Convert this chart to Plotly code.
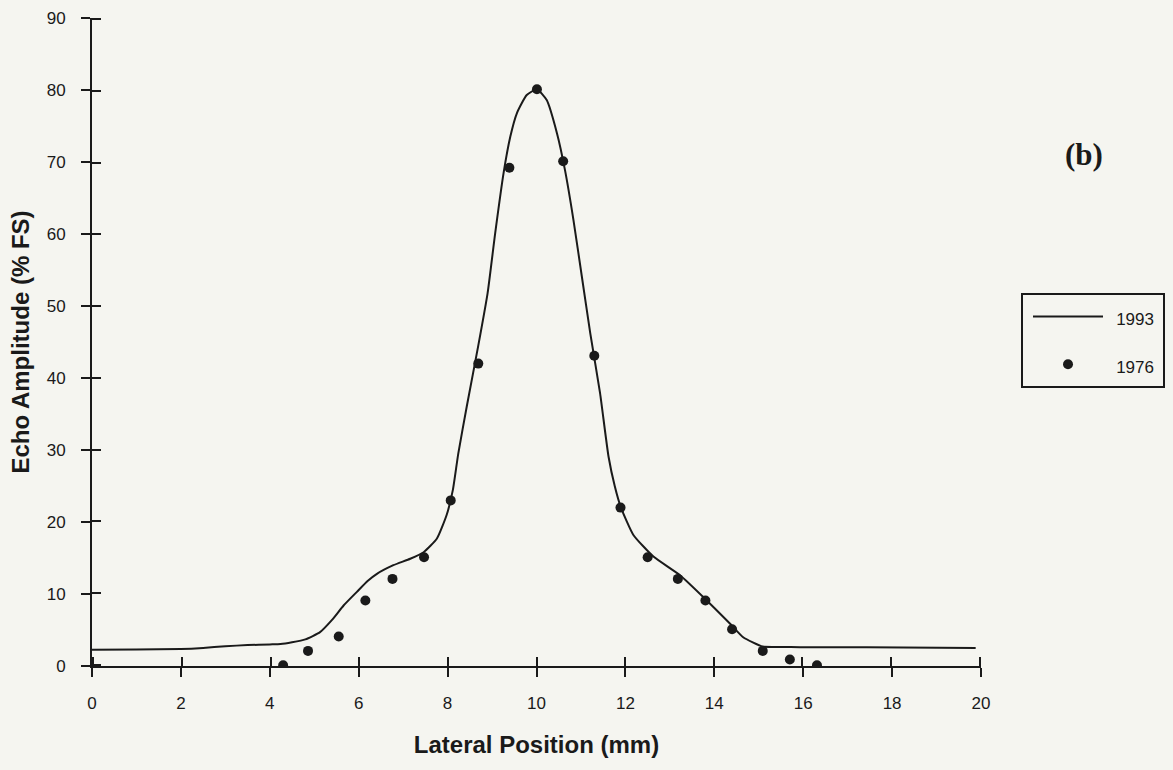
import plotly.graph_objects as go

# 1993 measured curve
x_1993 = [0, 1, 2, 2.5, 3, 3.5, 4.0, 4.24, 4.5, 4.8, 5.13, 5.4, 5.66, 5.96, 6.2, 6.41,
          6.78, 7.16, 7.46, 7.76, 7.98, 8.12, 8.24, 8.43, 8.69, 8.90, 9.07, 9.26, 9.41,
          9.56, 9.78, 10.01, 10.23, 10.46, 10.64, 10.83, 11.02, 11.21, 11.43, 11.62,
          11.76, 11.90, 12.18, 12.63, 13.23, 13.83, 14.35, 14.65, 15.09, 15.5, 15.93,
          17.43, 19.88]
y_1993 = [2.25, 2.3, 2.35, 2.5, 2.75, 2.9, 3.0, 3.05, 3.3, 3.7, 4.7, 6.4, 8.4, 10.3, 11.8, 12.8,
          14.0, 14.9, 15.8, 17.7, 21.0, 24.5, 29.5, 36.0, 44.5, 51.8, 60.1, 68.5, 73.5,
          76.8, 79.3, 80.1, 78.6, 74.0, 68.9, 62.0, 54.1, 46.2, 37.9, 29.1,
          25.0, 22.0, 18.2, 15.2, 12.6, 9.1, 5.9, 4.0, 2.7, 2.65, 2.6,
          2.6, 2.5]

# 1976 measured points
x_1976 = [4.30, 4.86, 5.55, 6.15, 6.76, 7.47, 8.07, 8.69, 9.39, 10.01, 10.60, 11.30,
          11.89, 12.50, 13.18, 13.80, 14.40, 15.09, 15.70, 16.31]
y_1976 = [0.1, 2.1, 4.1, 9.1, 12.1, 15.1, 23.0, 42.0, 69.2, 80.1, 70.1, 43.1,
          22.0, 15.1, 12.1, 9.1, 5.1, 2.1, 0.9, 0.1]

x_ticks = [0, 2, 4, 6, 8, 10, 12, 14, 16, 18, 20]
y_ticks = [0, 10, 20, 30, 40, 50, 60, 70, 80, 90]
x_range = [0, 20]
y_range = [0, 90]

BG = "#f5f5f0"
INK = "#1a1a1a"
FONT = "Liberation Sans, Arial, sans-serif"


def legend_label(s):
    return '<span style="font-size:17px">&nbsp;&#8201;' + s + '&#8201;</span>'


fig = go.Figure()
fig.add_trace(go.Scatter(
    x=x_1993, y=y_1993, mode="lines", name=legend_label("1993"),
    line=dict(color=INK, width=2, shape="spline", smoothing=0.5),
    legendgroup="a",
))
fig.add_trace(go.Scatter(
    x=x_1976, y=y_1976, mode="markers", name=legend_label("1976"),
    marker=dict(color=INK, size=10),
    legendgroup="b",
))
# invisible traces that activate the secondary axes (inner half of crossing ticks)
fig.add_trace(go.Scatter(
    x=x_1976, y=y_1976, mode="markers", xaxis="x2", yaxis="y",
    marker=dict(size=1, opacity=0), showlegend=False, hoverinfo="skip",
))
fig.add_trace(go.Scatter(
    x=x_1976, y=y_1976, mode="markers", xaxis="x", yaxis="y2",
    marker=dict(size=1, opacity=0), showlegend=False, hoverinfo="skip",
))

axis_common = dict(
    showgrid=False, zeroline=False, tickwidth=2, tickcolor=INK, ticklen=9,
)

# tiny symmetric padding so plotly keeps the inner ticks at both range ends
x_pad = 0.03
y_pad = 0.18

fig.update_layout(
    width=1173, height=770,
    margin=dict(l=92, r=192, t=18, b=104, autoexpand=False),
    paper_bgcolor=BG, plot_bgcolor=BG,
    font=dict(family=FONT, color=INK, size=17),
    showlegend=True,
    legend=dict(
        x=1.045, y=0.5757, xanchor="left", yanchor="top",
        bgcolor=BG, bordercolor=INK, borderwidth=2,
        font=dict(family=FONT, size=23, color=INK),
        traceorder="grouped", tracegroupgap=15, itemwidth=70,
        indentation=5,
    ),
    xaxis=dict(
        range=x_range, tickvals=x_ticks, ticks="outside",
        showline=True, linewidth=2, linecolor=INK,
        tickfont=dict(size=17), ticklabelstandoff=12,
        title=dict(text="<b>Lateral Position (mm)</b>", font=dict(size=24), standoff=24),
        **axis_common,
    ),
    yaxis=dict(
        range=y_range, tickvals=y_ticks, ticks="outside",
        showline=True, linewidth=2, linecolor=INK,
        tickfont=dict(size=17), ticklabelstandoff=12,
        title=dict(text="<b>Echo Amplitude (% FS)</b>", font=dict(size=24), standoff=10),
        **axis_common,
    ),
    xaxis2=dict(
        range=[x_range[0] - x_pad, x_range[1] + x_pad], tickvals=x_ticks,
        ticks="inside", overlaying="x", anchor="y", side="bottom",
        showticklabels=False, showline=False, **axis_common,
    ),
    yaxis2=dict(
        range=[y_range[0] - y_pad, y_range[1] + y_pad], tickvals=y_ticks,
        ticks="inside", overlaying="y", anchor="x", side="left",
        showticklabels=False, showline=False, **axis_common,
    ),
    annotations=[dict(
        text="<b>(b)</b>", x=1.1158, y=0.7888, xref="paper", yref="paper",
        xanchor="center", yanchor="middle", showarrow=False,
        font=dict(family="Liberation Serif, Times New Roman, serif", size=31, color=INK),
    )],
)

fig.write_html("out.html")
